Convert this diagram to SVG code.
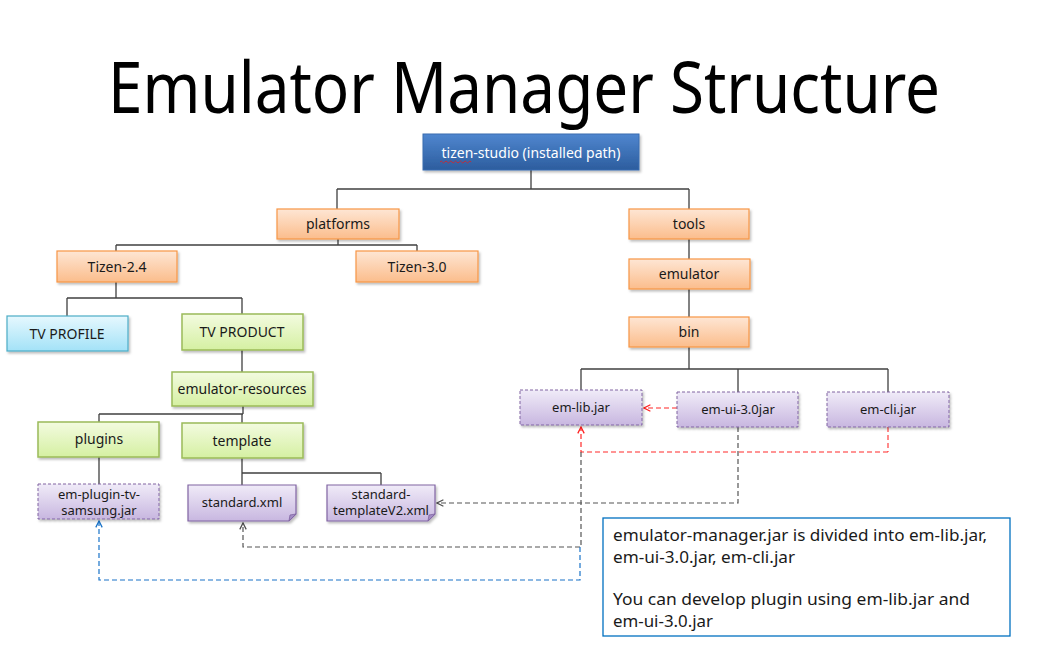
<svg xmlns="http://www.w3.org/2000/svg" width="1047" height="655" viewBox="0 0 1047 655">
<defs>
<linearGradient id="gOrange" x1="0" y1="0" x2="0" y2="1"><stop offset="0" stop-color="#fee6d4"/><stop offset="1" stop-color="#fbbd8c"/></linearGradient>
<linearGradient id="gGreen" x1="0" y1="0" x2="0" y2="1"><stop offset="0" stop-color="#f3fbe0"/><stop offset="1" stop-color="#d5f0a2"/></linearGradient>
<linearGradient id="gCyan" x1="0" y1="0" x2="0" y2="1"><stop offset="0" stop-color="#e6f8fe"/><stop offset="1" stop-color="#a3e2f7"/></linearGradient>
<linearGradient id="gPurple" x1="0" y1="0" x2="0" y2="1"><stop offset="0" stop-color="#f0ebf8"/><stop offset="1" stop-color="#c8b7e0"/></linearGradient>
<linearGradient id="gBlue" x1="0" y1="0" x2="0" y2="1"><stop offset="0" stop-color="#4f86cf"/><stop offset="1" stop-color="#2c5d9e"/></linearGradient>
<filter id="sh" x="-10%" y="-20%" width="125%" height="150%"><feDropShadow dx="1.5" dy="2" stdDeviation="1.2" flood-color="#000" flood-opacity="0.25"/></filter>
<marker id="aGray" viewBox="0 0 10 10" refX="9" refY="5" markerWidth="8" markerHeight="8" orient="auto-start-reverse" markerUnits="userSpaceOnUse"><path d="M1,1 L9,5 L1,9" fill="none" stroke="#505050" stroke-width="1.6"/></marker>
<marker id="aRed" viewBox="0 0 10 10" refX="9" refY="5" markerWidth="8" markerHeight="8" orient="auto-start-reverse" markerUnits="userSpaceOnUse"><path d="M1,1 L9,5 L1,9" fill="none" stroke="#ff2020" stroke-width="1.6"/></marker>
<marker id="aBlue" viewBox="0 0 10 10" refX="9" refY="5" markerWidth="8" markerHeight="8" orient="auto-start-reverse" markerUnits="userSpaceOnUse"><path d="M1,1 L9,5 L1,9" fill="none" stroke="#1a73c8" stroke-width="1.6"/></marker>
<style>
text{font-family:"Noto Sans","Open Sans","Liberation Sans",sans-serif;fill:#1a1a1a;}
.lbl{font-size:14px;text-anchor:middle;}
.sm{font-size:13px;text-anchor:middle;}
.note{font-size:16px;}
.orange{fill:url(#gOrange);stroke:#f79646;stroke-width:1.2;filter:url(#sh);}
.green{fill:url(#gGreen);stroke:#9bbb59;stroke-width:1.5;filter:url(#sh);}
.cyan{fill:url(#gCyan);stroke:#4bacc6;stroke-width:1.2;filter:url(#sh);}
.purpd{fill:url(#gPurple);stroke:#8064a2;stroke-width:1;stroke-dasharray:3 2;filter:url(#sh);}
.purps{fill:url(#gPurple);stroke:#8064a2;stroke-width:1.2;filter:url(#sh);}
.tree{fill:none;stroke:#404040;stroke-width:1.3;}
.dgray{fill:none;stroke:#555;stroke-width:1.2;stroke-dasharray:5 3;}
.dred{fill:none;stroke:#ff2a2a;stroke-width:1.2;stroke-dasharray:5 3;}
.dpink{fill:none;stroke:#ff6f6f;stroke-width:1.6;stroke-dasharray:5 3;}
.dblue{fill:none;stroke:#1a73c8;stroke-width:1.2;stroke-dasharray:5 3;}
</style>
</defs>
<rect width="1047" height="655" fill="#fff"/>
<text transform="translate(524,113) scale(1,1.15)" x="0" y="0" font-size="62" text-anchor="middle" style="fill:#000">Emulator Manager Structure</text>

<g id="connectors">
<path class="tree" d="M531,170 V189 M337,189 H689 M337,189 V209 M689,189 V209"/>
<path class="tree" d="M689,239 V259 M689,289 V317"/>
<path class="tree" d="M338,239 V245 M116,245 H417 M116,245 V251 M417,245 V251"/>
<path class="tree" d="M116,282 V298 M67,298 H242 M67,298 V316 M242,298 V314"/>
<path class="tree" d="M242,350 V372"/>
<path class="tree" d="M243,406 V414 M99,414 H243 M99,414 V422 M242,414 V423"/>
<path class="tree" d="M99,457 V484"/>
<path class="tree" d="M242,458 V473 M242,473 H381 M242,473 V485 M381,473 V485"/>
<path class="tree" d="M689,347 V369 M581,369 H888 M581,369 V390 M738,369 V392 M888,369 V392"/>
<path class="dpink" d="M677,408 H644" marker-end="url(#aRed)"/>
<path class="dpink" d="M888,427 V452"/>
<path class="dred" d="M888,452 H581 V427" marker-end="url(#aRed)"/>
<path class="dgray" d="M738,427 V503 H437" marker-end="url(#aGray)"/>
<path class="dgray" d="M581,452 V547 H243 V523" marker-end="url(#aGray)"/>
<path class="dblue" d="M580,547 V580 H99 V521" marker-end="url(#aBlue)"/>
</g>

<g id="tizen-studio">
<rect x="423" y="134" width="216" height="36" fill="url(#gBlue)" stroke="#3a6cb0" filter="url(#sh)"/>
<text x="531" y="158" class="lbl" style="fill:#fff">tizen-studio (installed path)</text>
<path d="M440,162 q1.2,-2 2.4,0 t2.4,0 t2.4,0 t2.4,0 t2.4,0 t2.4,0 t2.4,0 t2.4,0 t2.4,0 t2.4,0 t2.4,0 t2.4,0 t2.4,0" fill="none" stroke="#e02020" stroke-width="0.8"/>
</g>
<g id="platforms"><rect class="orange" x="277" y="209" width="122" height="30"/><text x="338" y="229" class="lbl">platforms</text></g>
<g id="tools"><rect class="orange" x="629" y="209" width="120" height="30"/><text x="689" y="229" class="lbl">tools</text></g>
<g id="emulator"><rect class="orange" x="629" y="259" width="121" height="30"/><text x="689" y="279" class="lbl">emulator</text></g>
<g id="bin"><rect class="orange" x="629" y="317" width="120" height="30"/><text x="689" y="337" class="lbl">bin</text></g>
<g id="tizen-2.4"><rect class="orange" x="57" y="251" width="120" height="31"/><text x="117" y="272" class="lbl">Tizen-2.4</text></g>
<g id="tizen-3.0"><rect class="orange" x="356" y="251" width="122" height="31"/><text x="417" y="272" class="lbl">Tizen-3.0</text></g>
<g id="tv-profile"><rect class="cyan" x="7" y="316" width="121" height="35"/><text x="67" y="339" class="lbl">TV PROFILE</text></g>
<g id="tv-product"><rect class="green" x="182" y="314" width="121" height="36"/><text x="242" y="337" class="lbl">TV PRODUCT</text></g>
<g id="emulator-resources"><rect class="green" x="172" y="372" width="141" height="34"/><text x="242" y="394" class="lbl">emulator-resources</text></g>
<g id="plugins"><rect class="green" x="38" y="422" width="121" height="35"/><text x="99" y="444" class="lbl">plugins</text></g>
<g id="template"><rect class="green" x="182" y="423" width="121" height="35"/><text x="242" y="446" class="lbl">template</text></g>
<g id="em-plugin-tv-samsung"><rect class="purpd" x="38" y="484" width="121" height="35"/><text x="99" y="499" class="sm">em-plugin-tv-</text><text x="99" y="515" class="sm">samsung.jar</text></g>
<g id="standard-xml"><path class="purps" d="M188,485 H296 V514 L289,521 H188 Z"/><path d="M296,514 L290,515 L289,521 Z" fill="#a28cc4" stroke="#8064a2" stroke-width="0.8"/><text x="242" y="507" class="sm">standard.xml</text></g>
<g id="standard-templateV2"><path class="purps" d="M327,485 H435 V514 L428,521 H327 Z"/><path d="M435,514 L429,515 L428,521 Z" fill="#a28cc4" stroke="#8064a2" stroke-width="0.8"/><text x="381" y="499" class="sm">standard-</text><text x="381" y="515" class="sm">templateV2.xml</text></g>
<g id="em-lib"><rect class="purpd" x="520" y="390" width="122" height="35"/><text x="581" y="412" class="sm">em-lib.jar</text></g>
<g id="em-ui"><rect class="purpd" x="677" y="392" width="121" height="35"/><text x="738" y="414" class="sm">em-ui-3.0jar</text></g>
<g id="em-cli"><rect class="purpd" x="827" y="392" width="122" height="35"/><text x="888" y="414" class="sm">em-cli.jar</text></g>
<g id="note">
<rect x="603" y="518" width="407" height="118" fill="#fff" stroke="#0070c0" stroke-width="1.3"/>
<text x="613" y="541" class="note" textLength="374" lengthAdjust="spacingAndGlyphs">emulator-manager.jar is divided into em-lib.jar,</text>
<text x="613" y="563" class="note" textLength="182" lengthAdjust="spacingAndGlyphs">em-ui-3.0.jar, em-cli.jar</text>
<text x="613" y="605" class="note" textLength="357" lengthAdjust="spacingAndGlyphs">You can develop plugin using em-lib.jar and</text>
<text x="613" y="627" class="note" textLength="100" lengthAdjust="spacingAndGlyphs">em-ui-3.0.jar</text>
</g>
</svg>
